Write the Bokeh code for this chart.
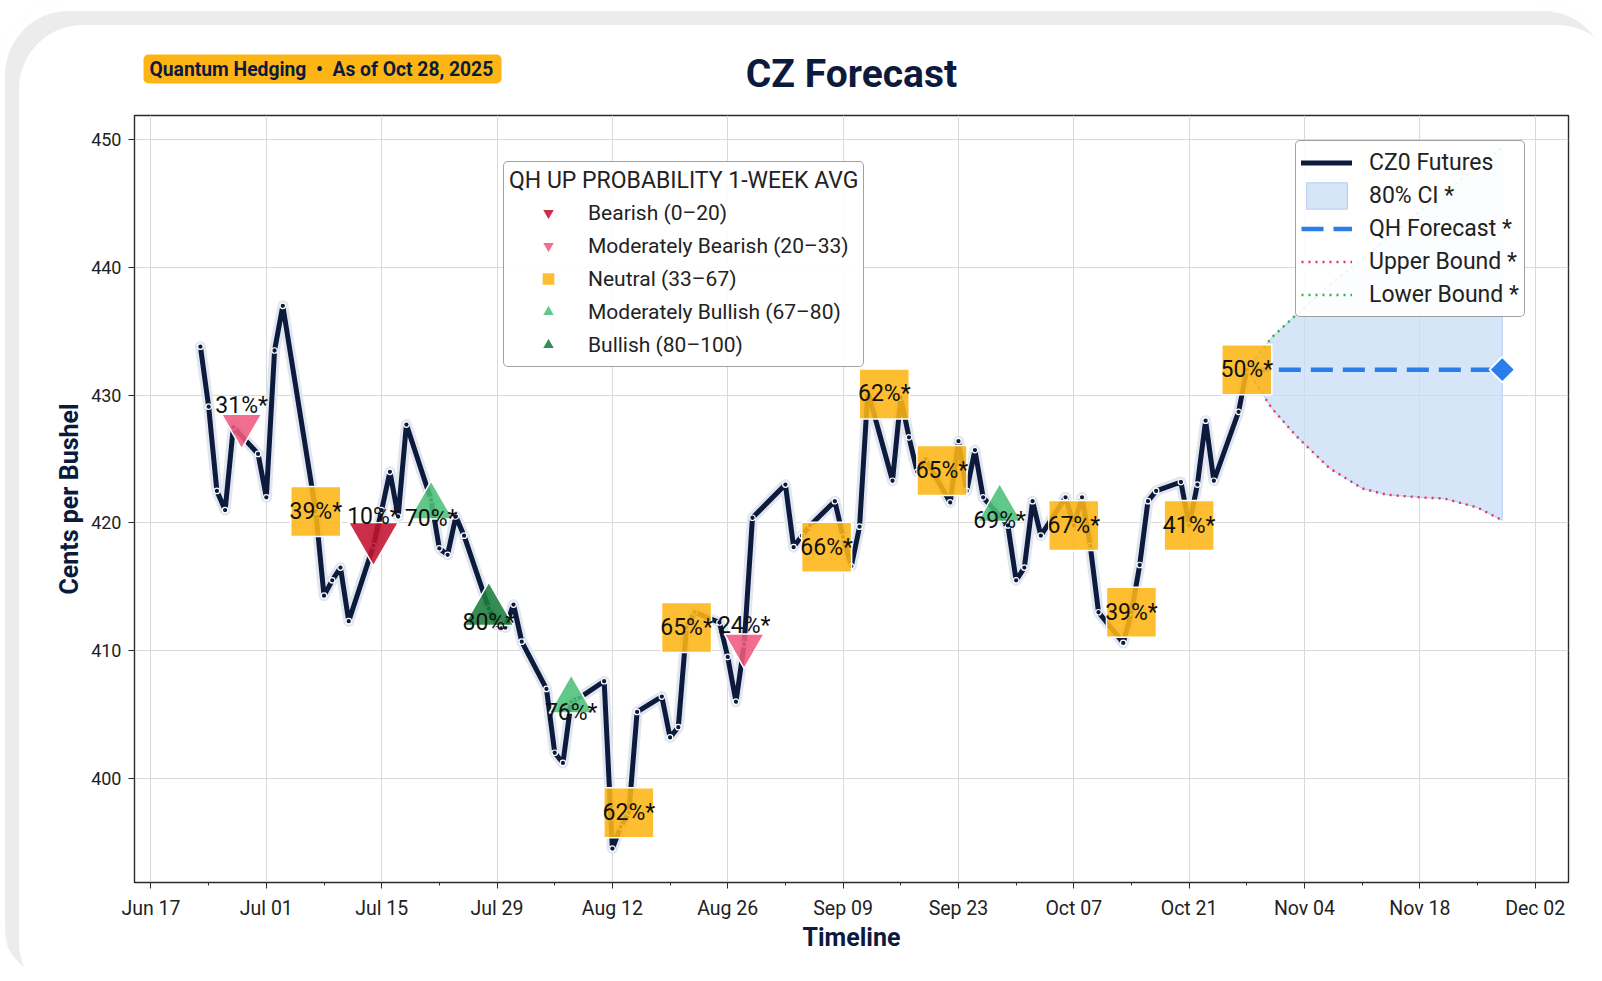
import numpy as np
import pandas as pd
from bokeh.plotting import figure
from bokeh.layouts import column
from bokeh.models import (ColumnDataSource, Range1d, FixedTicker, DatetimeTickFormatter,
                          Legend, LegendItem)
from bokeh.embed import file_html
from bokeh.resources import INLINE
from bokeh.core.properties import value

# ------------------------------------------------------------------ data
price_dates = [
    "2025-06-23", "2025-06-24", "2025-06-25", "2025-06-26", "2025-06-27",
    "2025-06-30", "2025-07-01", "2025-07-02", "2025-07-03",
    "2025-07-07", "2025-07-08", "2025-07-09", "2025-07-10", "2025-07-11",
    "2025-07-14", "2025-07-15", "2025-07-16", "2025-07-17", "2025-07-18",
    "2025-07-21", "2025-07-22", "2025-07-23", "2025-07-24", "2025-07-25",
    "2025-07-28", "2025-07-29", "2025-07-30", "2025-07-31", "2025-08-01",
    "2025-08-04", "2025-08-05", "2025-08-06", "2025-08-07", "2025-08-08",
    "2025-08-11", "2025-08-12", "2025-08-13", "2025-08-14", "2025-08-15",
    "2025-08-18", "2025-08-19", "2025-08-20", "2025-08-21", "2025-08-22",
    "2025-08-25", "2025-08-26", "2025-08-27", "2025-08-28", "2025-08-29",
    "2025-09-02", "2025-09-03", "2025-09-04", "2025-09-05",
    "2025-09-08", "2025-09-09", "2025-09-10", "2025-09-11", "2025-09-12",
    "2025-09-15", "2025-09-16", "2025-09-17", "2025-09-18", "2025-09-19",
    "2025-09-22", "2025-09-23", "2025-09-24", "2025-09-25", "2025-09-26",
    "2025-09-29", "2025-09-30", "2025-10-01", "2025-10-02", "2025-10-03",
    "2025-10-06", "2025-10-07", "2025-10-08", "2025-10-09", "2025-10-10",
    "2025-10-13", "2025-10-14", "2025-10-15", "2025-10-16", "2025-10-17",
    "2025-10-20", "2025-10-21", "2025-10-22", "2025-10-23", "2025-10-24",
    "2025-10-27", "2025-10-28",
]
price_values = [
    433.8, 429.1, 422.5, 421.0, 427.5,
    425.4, 422.0, 433.5, 437.0,
    420.9, 414.3, 415.5, 416.5, 412.3,
    418.2, 421.0, 424.0, 420.5, 427.7,
    421.8, 418.0, 417.5, 420.5, 419.0,
    413.3, 412.0, 411.8, 413.6, 410.7,
    407.0, 402.0, 401.2, 406.0, 406.3,
    407.6, 394.5, 396.2, 397.3, 405.2,
    406.4, 403.2, 404.0, 411.8, 413.0,
    412.2, 409.5, 406.0, 410.5, 420.4,
    423.0, 418.1, 419.0, 419.8,
    421.7, 418.9, 416.6, 419.7, 430.3,
    423.3, 429.8, 426.7, 424.0, 425.0,
    421.6, 426.4, 422.5, 425.7, 422.0,
    419.8, 415.5, 416.5, 421.7, 419.0,
    422.0, 419.8, 422.0, 418.2, 413.0,
    410.6, 413.0, 416.7, 421.7, 422.5,
    423.2, 419.8, 423.0, 428.0, 423.3,
    428.7, 432.0,
]

marker_dates = ["2025-06-28", "2025-07-07", "2025-07-14", "2025-07-21", "2025-07-28",
                "2025-08-07", "2025-08-14", "2025-08-21", "2025-08-28", "2025-09-07",
                "2025-09-14", "2025-09-21", "2025-09-28", "2025-10-07", "2025-10-14",
                "2025-10-21", "2025-10-28"]
marker_values = [427.6, 420.9, 418.9, 421.3, 413.1,
                 406.1, 397.3, 411.8, 410.4, 418.1,
                 430.1, 424.1, 421.1, 419.8, 413.0,
                 419.8, 432.0]
marker_probs = [31, 39, 10, 70, 80, 76, 62, 65, 24, 66, 62, 65, 69, 67, 39, 41, 50]

forecast_dates = ["2025-10-28", "2025-11-28"]
forecast_values = [432.0, 432.0]

band_dates = ["2025-10-28", "2025-10-31", "2025-11-03", "2025-11-07", "2025-11-11",
              "2025-11-14", "2025-11-18", "2025-11-21", "2025-11-25", "2025-11-28"]
upper_bound = [432.0, 429.0, 426.8, 424.3, 422.7, 422.2, 422.0, 421.9, 421.2, 420.2]
lower_bound = [432.0, 434.5, 436.3, 438.6, 440.7, 442.3, 444.4, 445.9, 447.9, 449.4]

category_names = ["Bearish (0\u201320)", "Moderately Bearish (20\u201333)", "Neutral (33\u201367)",
                  "Moderately Bullish (67\u201380)", "Bullish (80\u2013100)"]

tick_dates = ["2025-06-17", "2025-07-01", "2025-07-15", "2025-07-29", "2025-08-12",
              "2025-08-26", "2025-09-09", "2025-09-23", "2025-10-07", "2025-10-21",
              "2025-11-04", "2025-11-18", "2025-12-02"]
y_ticks = [400, 410, 420, 430, 440, 450]

title_text = "CZ Forecast"
badge_text = "Quantum Hedging\u00a0\u00a0\u2022\u00a0\u00a0As of Oct 28, 2025"

assert len(price_dates) == len(price_values)

# ------------------------------------------------------------------ styles
NAVY = "#0c1a3d"
FONT = "Roboto"
AMBER = "#fdb515"
cat_marker = ["inverted_triangle", "inverted_triangle", "square", "triangle", "triangle"]
cat_color = ["#c1122f", "#f05a7e", AMBER, "#4cc07a", "#1b7e3c"]
cat_size = [50, 40, 50, 44, 50]
cat_text_dy = [-20, -20, 0, 12, 12]

W, H_HDR, H_MAIN = 1602, 110, 871
BL, BR = 134, 34


def category_of(prob):
    if prob < 20:
        return 0
    if prob < 33:
        return 1
    if prob <= 67:
        return 2
    if prob < 80:
        return 3
    return 4


def to_ms(d):
    return pd.Timestamp(d).value / 1e6


# ------------------------------------------------------------------ header (title + badge)
hdr = figure(width=W, height=H_HDR, x_range=Range1d(BL, W - BR), y_range=Range1d(H_HDR, 0),
             output_backend="svg", toolbar_location=None,
             min_border_left=BL, min_border_right=BR, min_border_top=0, min_border_bottom=0,
             x_axis_location=None, y_axis_location=None)
hdr.grid.visible = False
hdr.outline_line_color = None
hdr.background_fill_alpha = 0
hdr.border_fill_alpha = 0
quad_kw = dict(left=[143], right=[501], top=[54], bottom=[83], fill_color=AMBER, line_color=None)
try:
    hdr.quad(border_radius=5, **quad_kw)
except Exception:
    hdr.quad(**quad_kw)
hdr.text(x=[149], y=[68.5], text=[badge_text], text_align="left", text_baseline="middle",
         text_font=value(FONT), text_font_size="19.3px", text_font_style="bold", text_color=NAVY)
hdr.text(x=[851], y=[73.5], text=[title_text], text_align="center", text_baseline="middle",
         text_font=value(FONT), text_font_size="39px", text_font_style="bold", text_color=NAVY)

# ------------------------------------------------------------------ main plot
p = figure(width=W, height=H_MAIN, x_axis_type="datetime",
           x_range=Range1d(start=pd.Timestamp("2025-06-15"), end=pd.Timestamp("2025-12-06 01:00")),
           y_range=Range1d(391.84, 451.9),
           output_backend="svg", toolbar_location=None,
           min_border_left=BL, min_border_right=BR, min_border_top=5, min_border_bottom=99)
p.border_fill_alpha = 0
p.background_fill_color = "white"
p.outline_line_color = "#2b2b2b"
p.outline_line_width = 1.4

major_ms = [to_ms(d) for d in tick_dates]
minor_ms = [m + 7 * 86400000 for m in major_ms]
p.xaxis.ticker = FixedTicker(ticks=major_ms, minor_ticks=minor_ms)
fmt = "%b %d"
p.xaxis.formatter = DatetimeTickFormatter(microseconds=fmt, milliseconds=fmt, seconds=fmt,
                                          minsec=fmt, minutes=fmt, hourmin=fmt, hours=fmt,
                                          days=fmt, months=fmt, years=fmt)
p.yaxis.ticker = FixedTicker(ticks=y_ticks)
for ax in (p.xaxis, p.yaxis):
    ax.axis_line_color = "#2b2b2b"
    ax.major_tick_line_color = "#2b2b2b"
    ax.major_tick_out = 6
    ax.major_tick_in = 0
    ax.minor_tick_out = 3
    ax.minor_tick_in = 0
    ax.minor_tick_line_color = "#2b2b2b"
    ax.major_label_text_font = FONT
    ax.major_label_text_color = "#222222"
    ax.axis_label_text_font = FONT
    ax.axis_label_text_font_style = "bold"
    ax.axis_label_text_color = NAVY
    ax.axis_label_text_font_size = "25px"
p.yaxis.minor_tick_line_color = None
p.xaxis.major_label_text_font_size = "19.5px"
p.yaxis.major_label_text_font_size = "18px"
p.xaxis.axis_label = "Timeline"
p.xaxis.major_label_standoff = 8
p.xaxis.axis_label_standoff = 0
p.yaxis.axis_label = "Cents per Bushel"
p.yaxis.major_label_standoff = 7
p.yaxis.axis_label_standoff = 4
p.xgrid.grid_line_color = "#d9d9d9"
p.ygrid.grid_line_color = "#d9d9d9"

# forecast band and bounds
bd = pd.to_datetime(band_dates)
band_x = list(bd) + list(bd[::-1])
band_y = list(upper_bound) + list(lower_bound[::-1])
r_band = p.patch(band_x, band_y, fill_color="#c9dcf7", fill_alpha=0.75,
                 line_color="#b3cdf2", line_width=1)
r_upper = p.line(bd, upper_bound, line_color="#e8315f", line_width=2.4, line_dash="2 5")
r_lower = p.line(bd, lower_bound, line_color="#27b153", line_width=2.4, line_dash="2 5")
fd = pd.to_datetime(forecast_dates)
r_fc = p.line(fd, forecast_values, line_color="#2b7de9", line_width=4.5, line_dash="22 10")
p.scatter(x=fd[-1:], y=forecast_values[-1:], marker="square", angle=np.pi / 4, size=18,
          fill_color="#2b7de9", line_color="white", line_width=2)

# price line
price_src = ColumnDataSource(dict(x=pd.to_datetime(price_dates), y=price_values))
p.line("x", "y", source=price_src, line_color="#e2e6ef", line_width=11,
       line_join="round", line_cap="round")
r_price = p.line("x", "y", source=price_src, line_color=NAVY, line_width=5,
                 line_join="round", line_cap="round")
p.scatter("x", "y", source=price_src, size=5.5, fill_color=NAVY, line_color="white",
          line_width=1.2)

# probability markers
cats = [category_of(v) for v in marker_probs]
md = pd.to_datetime(marker_dates)
cat_renderers = []
for c in range(5):
    idx = [i for i, k in enumerate(cats) if k == c]
    src = ColumnDataSource(dict(x=[md[i] for i in idx], y=[marker_values[i] for i in idx]))
    r = p.scatter("x", "y", source=src, marker=cat_marker[c], size=cat_size[c],
                  fill_color=cat_color[c], fill_alpha=0.88, line_color="white",
                  line_width=1.5)
    cat_renderers.append(r)

lab_src = ColumnDataSource(dict(x=md, y=marker_values,
                                text=["%d%%*" % v for v in marker_probs],
                                dy=[cat_text_dy[c] for c in cats]))
p.text(x="x", y="y", text="text", source=lab_src, y_offset="dy",
       text_align="center", text_baseline="middle",
       text_font=value(FONT), text_font_size="23px", text_color="#111111")

# legends
leg1 = Legend(items=[LegendItem(label=category_names[c], renderers=[cat_renderers[c]])
                     for c in range(5)],
              location=(369, 515), title="QH UP PROBABILITY 1-WEEK AVG",
              title_text_font=FONT, title_text_font_size="23px", title_text_font_style="normal",
              title_text_color="#222222", title_standoff=2,
              label_text_font=FONT, label_text_font_size="21px", label_text_color="#222222",
              glyph_width=78, glyph_height=33, spacing=0, padding=5, label_standoff=1,
              margin=0, border_line_color="#444444", border_line_width=1.5,
              background_fill_color="white", background_fill_alpha=0.92)
leg2 = Legend(items=[LegendItem(label="CZ0 Futures", renderers=[r_price]),
                     LegendItem(label="80% CI *", renderers=[r_band]),
                     LegendItem(label="QH Forecast *", renderers=[r_fc]),
                     LegendItem(label="Upper Bound *", renderers=[r_upper]),
                     LegendItem(label="Lower Bound *", renderers=[r_lower])],
              location=(1161, 565),
              label_text_font=FONT, label_text_font_size="23px", label_text_color="#222222",
              glyph_width=51, glyph_height=33, spacing=0, padding=5, label_standoff=17,
              margin=0, border_line_color="#444444", border_line_width=1.5,
              background_fill_color="white", background_fill_alpha=0.9)
for lg in (leg1, leg2):
    try:
        lg.border_radius = 5
    except Exception:
        pass
    p.add_layout(lg)

layout = column(hdr, p, spacing=0)
try:
    layout.styles = {"border-radius": "64px",
                     "box-shadow": "inset 5px 11px 0 0 #ffffff, inset 19px 25px 0 0 #ececec"}
except Exception:
    pass

open("out.html", "w").write(file_html(layout, INLINE))
